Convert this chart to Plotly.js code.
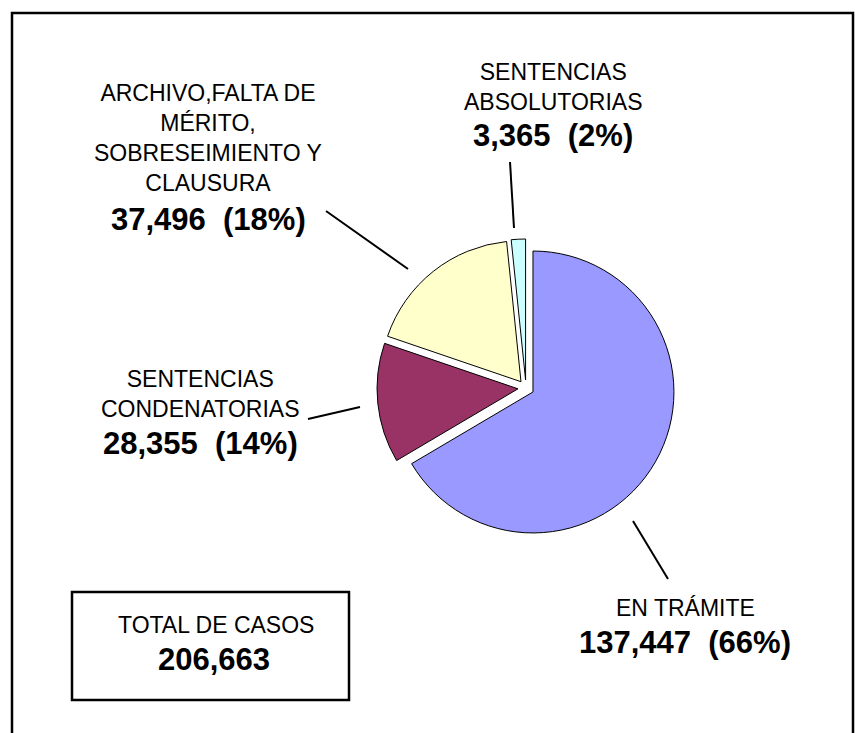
<!DOCTYPE html>
<html>
<head>
<meta charset="utf-8">
<script src="https://cdn.plot.ly/plotly-3.0.1.min.js"></script>
<style>html,body{margin:0;padding:0;background:#fff;}#chart{width:855px;height:733px;}</style>
</head>
<body>
<div id="chart"></div>
<script>
// ---- data ----
var categories = ["EN TRÁMITE", "SENTENCIAS CONDENATORIAS", "ARCHIVO,FALTA DE MÉRITO, SOBRESEIMIENTO Y CLAUSURA", "SENTENCIAS ABSOLUTORIAS"];
var labelLines = [["EN TRÁMITE"], ["SENTENCIAS", "CONDENATORIAS"], ["ARCHIVO,FALTA DE", "MÉRITO,", "SOBRESEIMIENTO Y", "CLAUSURA"], ["SENTENCIAS", "ABSOLUTORIAS"]];
var values = [137447, 28355, 37496, 3365];
var percentLabels = [66, 14, 18, 2];
var totalLabel = "TOTAL DE CASOS";
var colors = ["#9999FF", "#993366", "#FFFFCC", "#CCFFFF"];

var W = 855, H = 733;
function px(x) { return x / W; }
function py(y) { return 1 - y / H; }
function fmt(n) { return n.toLocaleString('en-US'); }
var total = values.reduce(function (a, b) { return a + b; }, 0);

// label placement (pixels): [x, yTextBlockCenter, yBoldLine]
var labelPos = [[685, 608, 642], [200, 394, 444], [208, 138.5, 219], [553, 87.5, 135]];
// leader lines [x0,y0,x1,y1]
var leaders = [[633, 521, 668, 579], [308, 419, 360, 407], [326, 211, 408, 269], [510, 162, 514, 228]];

var FONT = "Liberation Sans, Arial, sans-serif";
var annotations = [];
var shapes = [];
for (var i = 0; i < categories.length; i++) {
  annotations.push({
    xref: 'paper', yref: 'paper', x: px(labelPos[i][0]), y: py(labelPos[i][1]),
    xanchor: 'center', yanchor: 'middle', showarrow: false, align: 'center',
    text: labelLines[i].join('<br>'),
    font: {family: FONT, size: 23, color: '#000'}
  });
  annotations.push({
    xref: 'paper', yref: 'paper', x: px(labelPos[i][0]), y: py(labelPos[i][2]),
    xanchor: 'center', yanchor: 'middle', showarrow: false,
    text: '<b>' + fmt(values[i]) + '  (' + percentLabels[i] + '%)</b>',
    font: {family: FONT, size: 31, color: '#000'}
  });
  shapes.push({
    type: 'line', xref: 'paper', yref: 'paper',
    x0: px(leaders[i][0]), y0: py(leaders[i][1]), x1: px(leaders[i][2]), y1: py(leaders[i][3]),
    line: {color: '#000', width: 2}
  });
}
// total box
annotations.push({
  xref: 'paper', yref: 'paper', x: px(216), y: py(625), xanchor: 'center', yanchor: 'middle',
  showarrow: false, text: totalLabel, font: {family: FONT, size: 23, color: '#000'}
});
annotations.push({
  xref: 'paper', yref: 'paper', x: px(214), y: py(659), xanchor: 'center', yanchor: 'middle',
  showarrow: false, text: '<b>' + fmt(total) + '</b>', font: {family: FONT, size: 31, color: '#000'}
});
shapes.push({type: 'rect', xref: 'paper', yref: 'paper', x0: px(72), y0: py(592), x1: px(349), y1: py(700),
  line: {color: '#000', width: 2.5}, fillcolor: 'rgba(0,0,0,0)'});
// outer frame
shapes.push({type: 'rect', xref: 'paper', yref: 'paper', x0: px(12), y0: py(13), x1: px(853), y1: py(745),
  line: {color: '#000', width: 2.5}, fillcolor: 'rgba(0,0,0,0)'});

var pull = 0.057;
var trace = {
  type: 'pie',
  labels: categories,
  values: values,
  sort: false,
  direction: 'clockwise',
  rotation: 0,
  pull: pull,
  textinfo: 'none',
  hoverinfo: 'none',
  marker: {colors: colors, line: {color: '#000', width: 1}},
  domain: {x: [px(377), px(675)], y: [py(537), py(239)]}
};

var layout = {
  width: W, height: H,
  margin: {l: 0, r: 0, t: 0, b: 0},
  showlegend: false,
  paper_bgcolor: '#fff',
  annotations: annotations,
  shapes: shapes,
  hovermode: false
};
Plotly.newPlot('chart', [trace], layout, {displayModeBar: false, staticPlot: true});
</script>
</body>
</html>
